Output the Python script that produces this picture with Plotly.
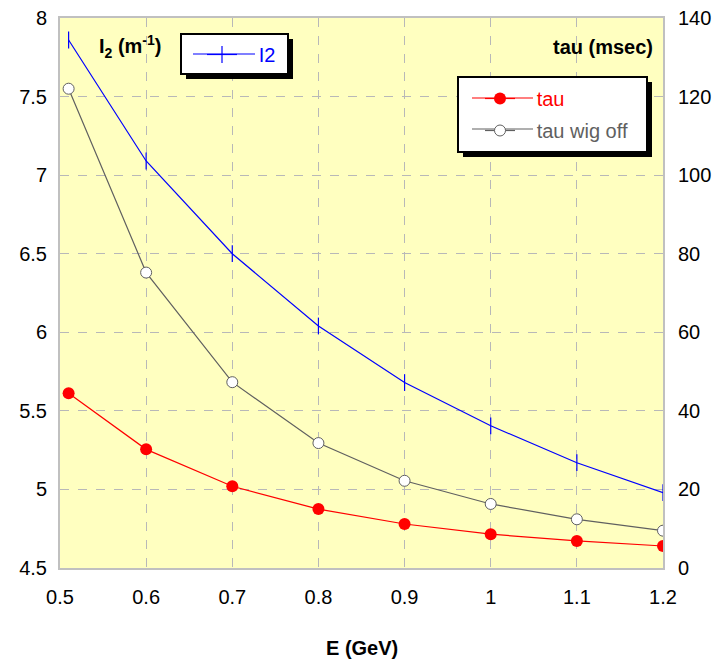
import plotly.graph_objects as go

E = [0.51, 0.6, 0.7, 0.8, 0.9, 1.0, 1.1, 1.2]
I2 = [7.86, 7.09, 6.50, 6.04, 5.68, 5.405, 5.17, 4.98]
tau = [44.5, 30.2, 20.8, 15.0, 11.2, 8.6, 6.9, 5.6]
tau_wig_off = [122.0, 75.2, 47.3, 31.8, 22.2, 16.3, 12.4, 9.5]

W, H = 717, 662
L, R, T, B = 60, 54, 18, 94
PW, PH = W - L - R, H - T - B

def px(x):
    return (x - L) / PW

def py(y):
    return (H - B - y) / PH

FONT = "Liberation Sans, Arial, sans-serif"
BLUE, RED, GRAY = "#0000ff", "#ff0000", "#606060"
PAD = "\u00a0\u00a0\u00a0"

fig = go.Figure()
fig.add_trace(go.Scatter(
    x=E, y=I2, name=PAD + "I2", mode="lines+markers",
    line=dict(color=BLUE, width=1.2),
    marker=dict(symbol="line-ns", size=12, line=dict(color=BLUE, width=1.2)),
    legend="legend", yaxis="y"))
fig.add_trace(go.Scatter(
    x=E, y=tau, name=PAD + "tau", mode="lines+markers",
    line=dict(color=RED, width=1.2),
    marker=dict(symbol="circle", size=12, color=RED),
    legend="legend2", legendgroup="a", yaxis="y2"))
fig.add_trace(go.Scatter(
    x=E, y=tau_wig_off, name=PAD + '<span style="color:#606060">tau wig off</span>',
    mode="lines+markers",
    line=dict(color=GRAY, width=1.2),
    marker=dict(symbol="circle", size=11, color="white", line=dict(color=GRAY, width=1)),
    legend="legend2", legendgroup="b", yaxis="y2"))

grid = dict(showgrid=True, gridcolor="#b8b8b8", griddash="dash", gridwidth=1)

shapes = []
def box(x0, y0, x1, y1):
    shapes.append(dict(type="rect", xref="paper", yref="paper",
                       x0=px(x0 + 5), x1=px(x1 + 5), y0=py(y1 + 5), y1=py(y0 + 5),
                       fillcolor="black", line=dict(width=0), layer="above"))
    shapes.append(dict(type="rect", xref="paper", yref="paper",
                       x0=px(x0), x1=px(x1), y0=py(y1), y1=py(y0),
                       fillcolor="white", line=dict(color="black", width=2), layer="above"))

def sample(x0, x1, y, color):
    shapes.append(dict(type="line", xref="paper", yref="paper",
                       x0=px(x0), x1=px(x1), y0=py(y), y1=py(y),
                       line=dict(color=color, width=1.2), layer="above"))

box(181, 34, 288, 74)
box(458, 77, 647, 152)
sample(193, 255, 54, BLUE)
sample(472, 533, 98, RED)
sample(472, 533, 129, GRAY)

fig.update_layout(
    width=W, height=H,
    margin=dict(l=L, r=R, t=T, b=B),
    paper_bgcolor="white", plot_bgcolor="#ffffc0",
    font=dict(family=FONT, size=20, color="black"),
    xaxis=dict(range=[0.5, 1.2], dtick=0.1, tick0=0.5, showline=True, mirror=True,
               linecolor="#c0c0c0", linewidth=2, ticks="", zeroline=False,
               ticklabelstandoff=10, automargin=False, **grid),
    yaxis=dict(range=[4.5, 8], dtick=0.5, showline=True, mirror=True,
               linecolor="#c0c0c0", linewidth=2, ticks="", zeroline=False,
               ticklabelstandoff=7, automargin=False, **grid),
    yaxis2=dict(range=[0, 140], dtick=20, overlaying="y", side="right",
                showgrid=False, zeroline=False, ticks="", showline=False,
                ticklabelstandoff=14, automargin=False),
    showlegend=True,
    legend=dict(x=px(202), y=py(35), xanchor="left", yanchor="top",
                bgcolor="rgba(0,0,0,0)", font=dict(size=20, color=BLUE)),
    legend2=dict(x=px(480), y=py(79), xanchor="left", yanchor="top",
                 bgcolor="rgba(0,0,0,0)", font=dict(size=20, color=RED),
                 traceorder="grouped", tracegroupgap=3),
    shapes=shapes,
    annotations=[
        dict(text="<b>I<sub>2</sub> (m<sup>-1</sup>)</b>", xref="paper", yref="paper",
             x=px(97), y=py(46), xanchor="left", yanchor="middle", showarrow=False,
             font=dict(size=20)),
        dict(text="<b>tau (msec)</b>", xref="paper", yref="paper",
             x=px(655), y=py(47), xanchor="right", yanchor="middle", showarrow=False,
             font=dict(size=20)),
        dict(text="<b>E (GeV)</b>", xref="paper", yref="paper",
             x=px(362), y=py(648), xanchor="center", yanchor="middle", showarrow=False,
             font=dict(size=20)),
    ],
)

fig.write_html("out.html")
